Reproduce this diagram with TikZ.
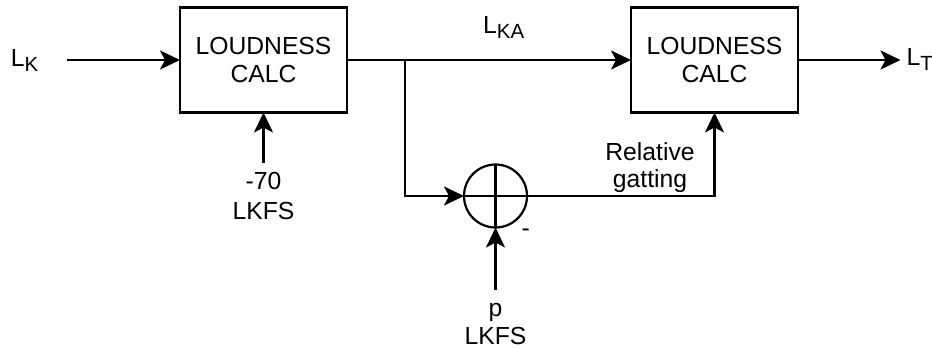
\documentclass[tikz,border=0pt]{standalone}
\usepackage{fontspec}
\setmainfont{Liberation Sans}
\usetikzlibrary{arrows.meta}
\newcommand{\mysubtxt}[1]{\raisebox{-5pt}{\fontsize{20.5}{20.5}\selectfont #1}}
\tikzset{
  base/.style={font=\fontsize{24.7}{28.3}\selectfont, inner sep=0pt, outer sep=0pt},
  blockbox/.style={base, draw, line width=2.2pt, minimum width=167pt, minimum height=105pt, align=center},
  sumcirc/.style={draw, circle, line width=2.2pt, minimum size=63pt, inner sep=0pt, outer sep=0pt},
  lbl/.style={base, align=center},
  wire/.style={line width=2.2pt},
  arr/.style={wire, -{Stealth[length=20pt, width=19pt, inset=5pt]}},
}
\begin{document}
\begin{tikzpicture}[x=1pt, y=-1pt]
\useasboundingbox (0,0) rectangle (932,350);
% blocks
\node[blockbox] (calc1) at (263.5,60) {LOUDNESS\\CALC};
\node[blockbox] (calc2) at (714.5,60) {LOUDNESS\\CALC};
\node[sumcirc] (sum) at (495.5,196) {};
\draw[wire] (sum.north) -- (sum.south);
\draw[wire] (sum.west) -- (sum.east);
% labels
\node[base, anchor=base west] (lk) at (10.9,66.5) {L\mysubtxt{K}};
\node[base, anchor=base west] (lka) at (483.2,34) {L\mysubtxt{KA}};
\node[base, anchor=base west] (lt) at (906.7,66) {L\mysubtxt{T}};
\node[lbl, anchor=north, font=\fontsize{24.7}{30}\selectfont] (l70) at (263.5,172.3) {-70\\LKFS};
\node[lbl, anchor=north, font=\fontsize{24.7}{28.5}\selectfont] (lp) at (495.5,303) {p\\LKFS};
\node[lbl, anchor=north, font=\fontsize{24.7}{27.5}\selectfont] (rg) at (650,142.3) {Relative\\gatting};
\node[base, anchor=base] (minus) at (525.7,236.4) {-};
% coordinates
\coordinate (in) at (67,60);
\coordinate (split) at (405,60);
\coordinate (out) at (900.5,60);
% connectors
\draw[arr] (in) -- (calc1.west);
\draw[arr] (calc1.east) -- (calc2.west);
\draw[arr] (split) |- (sum.west);
\draw[arr] (sum.east) -| (calc2.south);
\draw[arr] (calc2.east) -- (out);
\draw[arr] ([yshift=9.5pt]l70.north) -- (calc1.south);
\draw[arr] ([yshift=13pt]lp.north) -- (sum.south);
\end{tikzpicture}
\end{document}
